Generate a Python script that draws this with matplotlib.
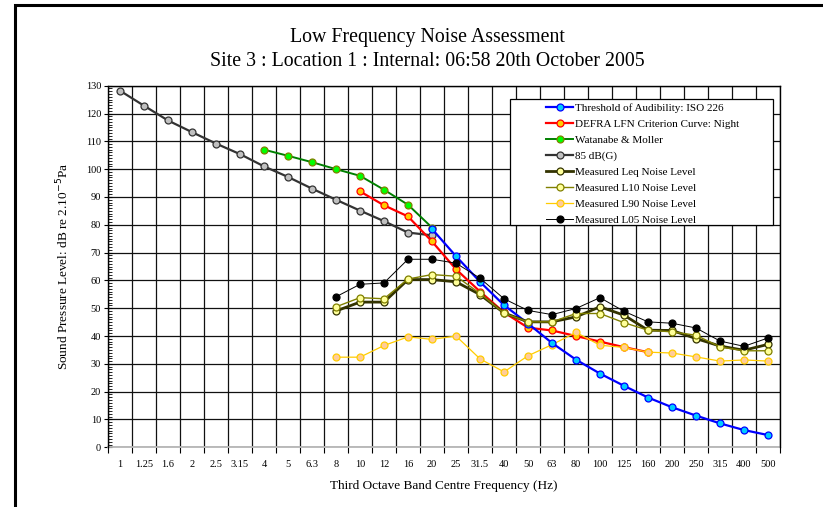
import matplotlib
matplotlib.use("Agg")
import matplotlib.pyplot as plt
from matplotlib.patches import Rectangle
import numpy as np

plt.rcParams['font.family'] = ['Liberation Serif', 'DejaVu Serif']

freqs = ["1", "1.25", "1.6", "2", "2.5", "3.15", "4", "5", "6.3", "8", "10", "12", "16", "20",
         "25", "31.5", "40", "50", "63", "80", "100", "125", "160", "200", "250", "315", "400", "500"]

# each series: (start frequency label, values)
iso226_start = "20"
iso226 = [78.5, 68.7, 59.5, 51.1, 44.5, 37.5, 31.5, 26.5, 22.1, 17.9, 14.4, 11.4, 8.6, 6.2, 4.4]

defra_start = "10"
defra = [92, 87, 83, 74, 64, 56, 48.5, 43, 42, 40, 38, 36, 34.2]

watanabe_start = "4"
watanabe = [107, 104.8, 102.5, 100, 97.6, 92.6, 87.2, 79]

g85_start = "1"
g85 = [128.2, 122.8, 117.5, 113.3, 109.2, 105.4, 101.0, 97.2, 93.0, 89.0, 85.1, 81.3, 77.2, 76.2]

meas_start = "8"
leq = [49.0, 52.2, 52.2, 60.3, 60.3, 59.5, 54.9, 48.3, 45.1, 45.1, 46.9, 50.5, 47.5, 42.1,
       42.0, 39.1, 36.4, 34.9, 37.0]
l10 = [50.5, 53.8, 53.4, 60.5, 62.1, 61.5, 55.3, 48.2, 45.1, 45.1, 48.1, 48.1, 44.8, 42.1,
       41.5, 40.3, 36.1, 34.7, 34.7]
l90 = [32.4, 32.4, 36.6, 39.7, 38.8, 40.0, 31.8, 27.1, 32.9, 36.9, 41.3, 36.7, 35.9, 34.2,
       33.9, 32.5, 31.0, 31.4, 31.0]
l05 = [54.1, 58.6, 59.1, 67.6, 67.6, 66.2, 60.8, 53.4, 49.2, 47.7, 49.9, 53.8, 48.9, 45.1,
       44.6, 42.9, 38.2, 36.3, 39.3]

title1 = "Low Frequency Noise Assessment"
title2 = "Site 3 : Location 1 : Internal: 06:58 20th October 2005"

fig = plt.figure(figsize=(8.23, 5.07), dpi=100)
W, H = 823, 507
# outer frame
fig.patches.append(Rectangle((15 / W, -0.05), 1.0, (507 - 5) / H + 0.05, transform=fig.transFigure,
                             fill=False, edgecolor='black', linewidth=2.2))

ax = fig.add_axes([108 / W, (507 - 447.3) / H, (780 - 108) / W, (447.3 - 85.7) / H])

def xs(start, vals):
    i0 = freqs.index(start)
    return np.arange(i0, i0 + len(vals))

series = [
    ("Threshold of Audibility: ISO 226", iso226_start, iso226, dict(color='#0000FF', lw=1.6, mfc='#00CCFF', mec='#0000FF')),
    ("DEFRA LFN Criterion Curve: Night", defra_start, defra, dict(color='#FF0000', lw=1.6, mfc='#FFCC00', mec='#FF0000')),
    ("Watanabe & Moller", watanabe_start, watanabe, dict(color='#008000', lw=1.4, mfc='#00FF00', mec='#808000')),
    ("85 dB(G)", g85_start, g85, dict(color='#333333', lw=1.6, mfc='#C0C0C0', mec='#333333')),
    ("Measured Leq Noise Level", meas_start, leq, dict(color='#333300', lw=2.0, mfc='#FFFF99', mec='#333300')),
    ("Measured L10 Noise Level", meas_start, l10, dict(color='#808000', lw=1.0, mfc='#FFFF99', mec='#808000')),
    ("Measured L90 Noise Level", meas_start, l90, dict(color='#FFCC00', lw=0.9, mfc='#FFCC99', mec='#FFCC00')),
    ("Measured L05 Noise Level", meas_start, l05, dict(color='#000000', lw=0.7, mfc='#000000', mec='#000000')),
]

handles = []
zo = [6, 5, 4, 3, 7, 8, 5, 9]
for (label, start, vals, st), z in zip(series, zo):
    h, = ax.plot(xs(start, vals), vals, marker='o', markersize=5, markeredgewidth=0.9,
                 label=label, zorder=z, **st)
    handles.append(h)

ax.set_xlim(-0.5, len(freqs) - 0.5)
ax.set_ylim(0, 130)
ax.set_xticks(np.arange(len(freqs)))
ax.set_xticklabels(freqs, fontsize=7.5)
ax.set_xticks(np.arange(len(freqs) + 1) - 0.5, minor=True)
ax.tick_params(axis='x', which='major', length=0, pad=9)
ax.tick_params(axis='x', which='minor', length=4, direction='out', width=0.8)
ax.set_yticks(np.arange(0, 131, 10))
ax.set_yticks(np.arange(0, 131, 1), minor=True)
ax.tick_params(axis='y', which='major', length=6, direction='inout', width=0.8, labelsize=7.5, pad=2)
ax.tick_params(axis='y', which='minor', length=3, direction='in', width=0.6)

for v in np.arange(0, 131, 10):
    ax.axhline(v, color='#111111', lw=0.9, zorder=1)
for v in np.arange(len(freqs) + 1) - 0.5:
    ax.axvline(v, color='#111111', lw=0.9, zorder=1)

for s in ['left', 'right', 'top']:
    ax.spines[s].set_color('black')
    ax.spines[s].set_linewidth(1.0)
ax.spines['bottom'].set_color('#B5B5B5')
ax.spines['bottom'].set_linewidth(1.3)
ax.spines['bottom'].set_zorder(2)

ax.set_xlabel("Third Octave Band Centre Frequency (Hz)", fontsize=9.5, labelpad=8)
ax.set_ylabel("Sound Pressure Level: dB re 2.10$^{-5}$Pa", fontsize=9.5, labelpad=10)

fig.text(427 / W, 1 - 38 / H, title1, ha='center', va='center', fontsize=14.3)
fig.text(427 / W, 1 - 61 / H, title2, ha='center', va='center', fontsize=14.3)

# legend box
ax_tr = ax.transAxes.inverted()
def to_ax(px, py):
    return ax_tr.transform(fig.transFigure.transform((px / W, 1 - py / H)))
(bx0, by1) = to_ax(510, 99)
(bx1, by0) = to_ax(773, 225)
ax.add_patch(Rectangle((bx0, by0), bx1 - bx0, by1 - by0, transform=ax.transAxes,
                       facecolor='white', edgecolor='black', lw=0.9, zorder=20))
(lx, ly) = to_ax(543, 100)
leg = ax.legend(handles=handles, loc='upper left', bbox_to_anchor=(lx, ly), frameon=False,
                fontsize=8, handlelength=2.4, handletextpad=0.2, labelspacing=0.56,
                borderaxespad=0, borderpad=0.3)
leg.set_zorder(21)

fig.savefig("out.png", dpi=100)
